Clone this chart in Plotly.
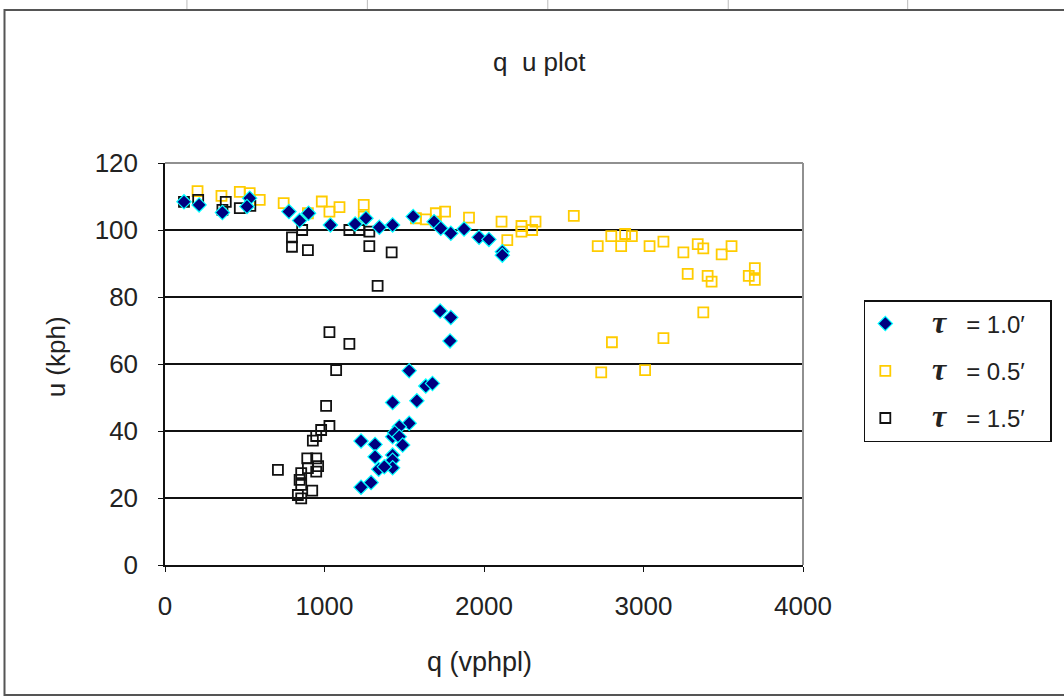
import plotly.graph_objects as go

# tau = 1.0'
q1 = [119, 214, 360, 531, 514, 777, 844, 900, 1037, 1192, 1260, 1344, 1427, 1556, 1687, 1729, 1792, 1875,
      1969, 2031, 2115, 2115,
      1725, 1792, 1787, 1531, 1635, 1677, 1427, 1579, 1531, 1469, 1427, 1440, 1469, 1490, 1229, 1317, 1317,
      1427, 1427, 1427, 1340, 1375, 1229, 1292]
u1 = [108.4, 107.5, 105.2, 109.5, 107.0, 105.5, 102.8, 105.0, 101.5, 101.8, 103.5, 100.8, 101.5, 104.0, 102.5, 100.5, 99.0, 100.3,
      97.8, 97.2, 93.5, 92.5,
      75.8, 73.9, 66.9, 58.0, 53.4, 54.2, 48.5, 49.0, 42.3, 41.3, 38.3, 39.5, 38.3, 35.8, 37.0, 36.0, 32.3,
      32.8, 31.3, 29.0, 28.6, 29.3, 23.2, 24.6]

# tau = 0.5'
q2 = [204, 354, 469, 531, 594, 744, 896, 983, 1031, 1094, 1246, 1246, 1573, 1635, 1698, 1756, 1698, 1906,
      2110, 2146, 2235, 2235, 2302, 2323, 2563, 2713, 2798, 2860, 2885, 2927, 3038, 3125, 3250, 3340, 3375,
      3490, 3552, 3277, 3402, 3427, 3660, 3698, 3698, 3375, 3125, 2802, 2735, 3010]
u2 = [111.6, 110.2, 111.4, 111.0, 109.0, 108.0, 105.0, 108.5, 105.5, 106.8, 107.5, 104.0, 103.5, 103.2, 105.0, 105.5, 102.5, 103.7,
      102.5, 97.0, 101.2, 99.5, 100.0, 102.5, 104.2, 95.2, 98.2, 95.2, 98.8, 98.2, 95.2, 96.5, 93.3, 95.8, 94.5,
      92.7, 95.2, 86.9, 86.3, 84.6, 86.3, 88.6, 85.1, 75.4, 67.7, 66.5, 57.5, 58.2]

# tau = 1.5'
q3 = [119, 208, 360, 381, 469, 535, 860, 796, 796, 896, 1156, 1219, 1281, 1281, 1421, 1333,
      1031, 1156, 1073, 1010, 1031, 979, 948, 927, 708, 892, 948, 896, 948, 854, 844, 854, 923, 833, 854, 960]
u3 = [108.4, 109.0, 106.0, 108.4, 106.5, 107.2, 100.0, 97.8, 95.0, 94.0, 100.0, 100.0, 99.5, 95.2, 93.3, 83.3,
      69.5, 66.0, 58.2, 47.5, 41.5, 40.3, 38.5, 37.1, 28.4, 31.8, 31.8, 28.9, 27.9, 27.4, 25.4, 23.9, 22.2, 20.9, 19.9, 29.5]

TAU = "<span style='font-family:Liberation Serif;font-size:32px'><b><i>τ</i></b></span>"
SP = "&nbsp;"
labels = ["1.0′", "0.5′", "1.5′"]
names = [SP * 4 + TAU + SP * 3 + "= " + lab + SP * 3 for lab in labels]

FONT = "Liberation Sans, Arial, sans-serif"
TXT = "#222222"

fig = go.Figure()
fig.add_trace(go.Scatter(x=q2, y=u2, mode="markers", name=names[1], legendrank=2, legendgroup="b",
                         marker=dict(symbol="square-open", size=10, color="#FFCC00",
                                     line=dict(width=1.8, color="#FFCC00"))))
fig.add_trace(go.Scatter(x=q3, y=u3, mode="markers", name=names[2], legendrank=3, legendgroup="c",
                         marker=dict(symbol="square-open", size=10, color="#111111",
                                     line=dict(width=1.8, color="#111111"))))
fig.add_trace(go.Scatter(x=q1, y=u1, mode="markers", name=names[0], legendrank=1, legendgroup="a",
                         marker=dict(symbol="diamond", size=11, color="#000080",
                                     line=dict(width=1.2, color="#00FFFF"))))

L, R, T, B = 165, 259, 163, 135
W, H = 1064, 700
pw, ph = W - L - R, H - T - B

def px(x):
    return (x - L) / pw

def py(y):
    return (H - B - y) / ph

shapes = [
    dict(type="rect", xref="paper", yref="paper", x0=px(4), x1=px(1070), y0=py(695), y1=py(10),
         line=dict(color="#555555", width=2), layer="below"),
    dict(type="line", xref="paper", yref="paper", x0=0, x1=1, y0=1, y1=1, line=dict(color="#909090", width=2)),
    dict(type="line", xref="paper", yref="paper", x0=1, x1=1, y0=0, y1=1, line=dict(color="#909090", width=2)),
]
for xc in [187, 368, 549, 730, 910]:
    shapes.append(dict(type="line", xref="paper", yref="paper", x0=px(xc), x1=px(xc), y0=py(0), y1=py(9),
                       line=dict(color="#bbbbbb", width=1)))

fig.update_layout(
    width=W, height=H, autosize=False,
    margin=dict(l=L, r=R, t=T, b=B),
    paper_bgcolor="white", plot_bgcolor="white",
    font=dict(family=FONT, size=26, color=TXT),
    showlegend=True,
    legend=dict(x=px(866), y=py(300), xanchor="left", yanchor="top",
                bgcolor="white", bordercolor="#111111", borderwidth=1.5,
                font=dict(family=FONT, size=24, color=TXT),
                tracegroupgap=13, itemwidth=30, traceorder="grouped"),
    xaxis=dict(range=[0, 4000], dtick=1000, showgrid=False, zeroline=False,
               showline=True, linecolor="#111111", linewidth=1.5,
               ticks="outside", ticklen=5, tickcolor="#111111",
               ticklabelstandoff=12, tickfont=dict(size=26)),
    yaxis=dict(range=[0, 120], dtick=20, showgrid=True, gridcolor="#111111", gridwidth=1.5,
               zeroline=False, showline=True, linecolor="#111111", linewidth=1.5,
               ticks="outside", ticklen=5, tickcolor="#111111",
               ticklabelstandoff=15, tickfont=dict(size=26)),
    shapes=shapes,
    annotations=[
        dict(text="q&nbsp;&nbsp;u plot", xref="paper", yref="paper", x=px(541), y=py(62), showarrow=False,
             xanchor="center", yanchor="middle", font=dict(size=26, family=FONT, color=TXT)),
        dict(text="u (kph)", xref="paper", yref="paper", x=px(56), y=py(357), showarrow=False,
             xanchor="center", yanchor="middle", textangle=-90, font=dict(size=26, family=FONT, color=TXT)),
        dict(text="q (vphpl)", xref="paper", yref="paper", x=px(480), y=py(662), showarrow=False,
             xanchor="center", yanchor="middle", font=dict(size=27, family=FONT, color=TXT)),
    ],
)

fig.write_html("out.html", post_script="document.body.style.margin='0';",
               config={"displayModeBar": False})
